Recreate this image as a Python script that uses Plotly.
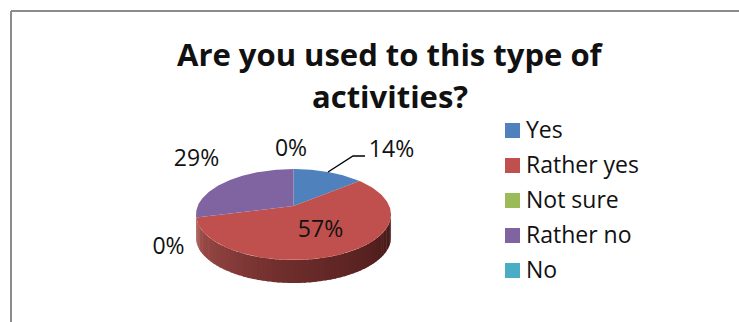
import numpy as np
import plotly.graph_objects as go

# Survey answers, in percent
categories = ["Yes", "Rather yes", "Not sure", "Rather no", "No"]
percentages = [14, 57, 0, 29, 0]
colors = ["#4f81bd", "#c0504d", "#9bbb59", "#8064a2", "#4bacc6"]
title_lines = ["Are you used to this type of", "activities?"]

# Perspective disc geometry, in page pixels
CX, CY, RX, RY, PERSPECTIVE, DEPTH = 293.5, 206.0, 95.8, 43.9, 0.187, 23.0
FONT = "Open Sans"
DARK = "#111111"


def rim(angle, drop=0.0):
    """Project a clockwise-from-top angle (radians) onto the tilted disc."""
    u, v = np.sin(angle), np.cos(angle)
    s = 1 / (1 + PERSPECTIVE * v)
    return CX + RX * u * s, CY - RY * v * s + drop


def mix(a, b, t):
    a, b = np.array(a), np.array(b)
    r, g, bl = (a + (b - a) * t).round().astype(int)
    return f"rgb({r},{g},{bl})"


fig = go.Figure()

# Outer wall of the disc, shaded left to right in narrow strips
wall_angles = np.linspace(np.radians(258), np.radians(102), 61)
stops = [(0.0, (166, 82, 79)), (0.45, (112, 46, 44)), (1.0, (66, 24, 22))]
for a0, a1 in zip(wall_angles[:-1], wall_angles[1:]):
    x0, y0 = rim(a0)
    x1, y1 = rim(a1 - 0.012)
    xb0, yb0 = rim(a0, DEPTH)
    xb1, yb1 = rim(a1 - 0.012, DEPTH)
    t = (a0 - wall_angles[0]) / (wall_angles[-1] - wall_angles[0])
    if t < stops[1][0]:
        shade = mix(stops[0][1], stops[1][1], t / stops[1][0])
    else:
        shade = mix(stops[1][1], stops[2][1], (t - stops[1][0]) / (1 - stops[1][0]))
    fig.add_trace(go.Scatter(
        x=[x0, x1, xb1, xb0, x0], y=[y0, y1, yb1, yb0, y0],
        mode="lines", fill="toself", fillcolor=shade, line=dict(width=0),
        hoverinfo="skip", showlegend=False,
    ))

# Top face: one wedge per category with a non-zero share
start = 0.0
for name, pct, color in zip(categories, percentages, colors):
    sweep = 2 * np.pi * pct / sum(percentages)
    if pct > 0:
        arc = np.linspace(start, start + sweep, 120)
        xs, ys = rim(arc)
        fig.add_trace(go.Scatter(
            x=np.r_[CX, xs, CX], y=np.r_[CY, ys, CY],
            mode="lines", fill="toself", fillcolor=color,
            line=dict(width=0), name=name, showlegend=False,
        ))
    start += sweep

# Leader line of the first slice
fig.add_trace(go.Scatter(
    x=[328, 353, 365], y=[172, 156, 156], mode="lines",
    line=dict(color="#000000", width=1.4), hoverinfo="skip", showlegend=False,
))

# Percentage labels
label_pos = [(391.5, 151.5), (320.5, 231.5), (168.5, 248.5), (196.5, 160), (291, 150)]
fig.add_trace(go.Scatter(
    x=[p[0] for p in label_pos], y=[p[1] for p in label_pos],
    mode="text", text=[f"{p}%" for p in percentages],
    textfont=dict(family=FONT, size=23, color=DARK),
    textposition="middle center", hoverinfo="skip", showlegend=False,
))

# Key on the right
for i, (name, color) in enumerate(zip(categories, colors)):
    y = 130.5 + i * 35
    fig.add_trace(go.Scatter(
        x=[512.5], y=[y], mode="markers",
        marker=dict(symbol="square", size=15, color=color, line=dict(width=0)),
        name=name, showlegend=False,
    ))
    fig.add_annotation(
        x=524, y=y - 1.5, text=name, showarrow=False, xanchor="left", yanchor="middle",
        font=dict(family=FONT, size=23, color=DARK),
    )

# Two-line heading
for line, y in zip(title_lines, (54, 96)):
    fig.add_annotation(
        x=390, y=y, text=f"<b>{line}</b>", showarrow=False,
        font=dict(family=FONT, size=31, color=DARK),
    )

# Chart frame: visible along the top and left
frame = dict(type="line", line=dict(color="#8c8c8c", width=2))
fig.add_shape(x0=11, x1=739, y0=11, y1=11, **frame)
fig.add_shape(x0=11, x1=11, y0=11, y1=322, **frame)

fig.update_layout(
    width=739, height=322, margin=dict(l=0, r=0, t=0, b=0),
    paper_bgcolor="white", plot_bgcolor="white",
    xaxis=dict(range=[0, 739], visible=False, fixedrange=True),
    yaxis=dict(range=[322, 0], visible=False, fixedrange=True),
)
fig.write_html("out.html", config=dict(displayModeBar=False))
